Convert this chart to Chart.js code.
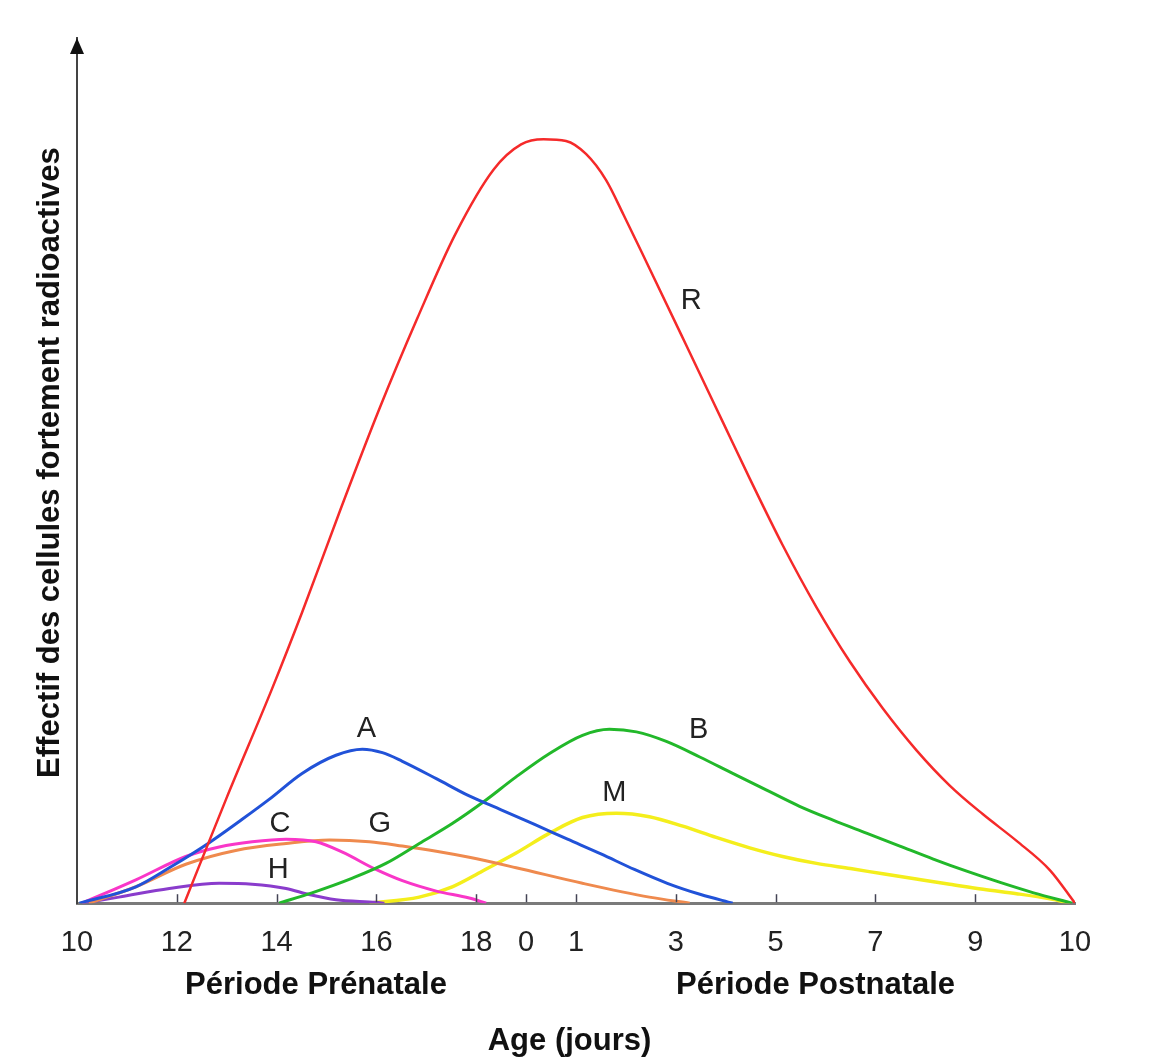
<!DOCTYPE html>
<html>
<head>
<meta charset="utf-8">
<title>Effectif des cellules fortement radioactives</title>
<script src="https://cdn.jsdelivr.net/npm/chart.js@4.4.1/dist/chart.umd.min.js"></script>
<style>
  html, body { margin: 0; padding: 0; background: #fff; }
</style>
</head>
<body>
<canvas id="chart" width="1158" height="1064"></canvas>
<script>
// x axis: 0..8 = jours 10..18 (prénatal), 9 = naissance (0), 10..20 = jours postnatals
const tickPositions = [0, 2, 4, 6, 8, 9, 10, 12, 14, 16, 18, 20];
const tickLabels = ['10', '12', '14', '16', '18', '0', '1', '3', '5', '7', '9', '10'];

// curves as [x, y] (y in % of axis height)
const curveR = [[2.15, 0], [3.0, 12.2], [3.91, 24.8], [4.51, 33.6], [5.28, 45.5], [6.05, 57.0],
  [6.82, 67.6], [7.58, 77.3], [8.35, 84.8], [8.9, 87.7], [9.35, 88.3], [9.8, 88.1],
  [10.2, 86.6], [10.6, 83.6], [10.95, 79.6], [11.42, 74.0], [12.2, 64.6], [12.96, 55.4],
  [13.48, 49.1], [14.14, 41.4], [14.82, 34.2], [15.49, 27.9], [16.15, 22.5], [16.82, 17.7],
  [17.49, 13.6], [18.15, 10.3], [18.83, 7.2], [19.5, 3.8], [20, 0]];
const curveA = [[0.05, 0], [1.18, 1.9], [1.85, 4.1], [2.65, 7.0], [3.31, 9.7], [3.85, 12.0],
  [4.51, 15.0], [5.19, 17.1], [5.72, 17.8], [6.12, 17.4], [6.52, 16.4], [7.2, 14.4],
  [7.86, 12.4], [8.5, 10.8], [9.17, 9.1], [9.83, 7.4], [10.5, 5.7], [11.17, 3.9],
  [11.83, 2.3], [12.5, 1.0], [13.14, 0]];
const curveB = [[4.05, 0], [4.71, 1.2], [5.52, 2.9], [6.19, 4.6], [6.86, 6.9], [7.52, 9.2],
  [8.12, 11.6], [8.8, 14.6], [9.47, 17.3], [10.13, 19.4], [10.67, 20.1], [11.21, 19.8],
  [11.81, 18.7], [12.48, 16.9], [13.14, 15.0], [13.81, 13.1], [14.48, 11.2], [15.15, 9.6],
  [15.82, 8.1], [16.49, 6.6], [17.16, 5.1], [17.83, 3.7], [18.5, 2.4], [19.17, 1.2], [19.94, 0]];
const curveC = [[0.1, 0], [1.18, 2.7], [2.18, 5.4], [2.85, 6.5], [3.51, 7.1], [4.19, 7.4],
  [4.79, 7.1], [5.32, 5.9], [5.99, 3.9], [6.52, 2.6], [7.2, 1.4], [7.86, 0.6], [8.2, 0]];
const curveG = [[0.24, 0], [1.18, 1.9], [2.18, 4.5], [3.18, 6.1], [4.19, 6.9], [5.06, 7.3],
  [5.86, 7.1], [6.52, 6.6], [7.2, 6.0], [7.86, 5.3], [8.8, 4.1], [10.13, 2.3], [11.47, 0.7],
  [12.28, 0]];
const curveH = [[0.1, 0], [0.84, 0.7], [1.85, 1.7], [2.85, 2.3], [3.51, 2.2], [4.19, 1.7],
  [4.65, 1.0], [5.19, 0.4], [5.99, 0.1], [6.16, 0]];
const curveM = [[5.86, 0], [6.86, 0.7], [7.52, 1.9], [8.12, 3.7], [8.8, 5.8], [9.47, 8.1],
  [10.13, 9.9], [10.81, 10.4], [11.47, 10.0], [12.14, 8.9], [12.81, 7.6], [13.48, 6.4],
  [14.14, 5.4], [14.82, 4.6], [15.5, 4.0], [16.15, 3.4], [16.82, 2.8], [17.49, 2.2],
  [18.16, 1.6], [18.83, 1.1], [19.5, 0.5], [19.9, 0]];

// curve letters and where they sit (data units)
const letterNames = ['R', 'A', 'B', 'C', 'G', 'H', 'M'];
const letterX = [12.31, 5.8, 12.46, 4.07, 6.07, 4.03, 10.77];
const letterY = [69.6, 20.1, 20.0, 9.2, 9.2, 3.8, 12.7];

const toPoints = arr => arr.map(p => ({ x: p[0], y: p[1] }));

function curve(label, pts, color, width) {
    return {
        label: label,
        data: toPoints(pts),
        borderColor: color,
        borderWidth: width,
        pointRadius: 0,
        fill: false,
        cubicInterpolationMode: 'monotone'
    };
}

const FONT = '"Liberation Sans", Arial, Helvetica, sans-serif';

const decorations = {
    id: 'decorations',
    afterDraw(chart) {
        const { ctx, chartArea, scales: { x, y } } = chart;
        ctx.save();

        // small ticks pointing up from the x axis
        ctx.strokeStyle = '#445';
        ctx.lineWidth = 1.5;
        tickPositions.slice(1, -1).forEach(v => {
            const px = Math.round(x.getPixelForValue(v)) + 0.5;
            ctx.beginPath();
            ctx.moveTo(px, chartArea.bottom - 1);
            ctx.lineTo(px, chartArea.bottom - 9);
            ctx.stroke();
        });

        // arrow head on the y axis
        const ax = chartArea.left;
        ctx.fillStyle = '#111';
        ctx.beginPath();
        ctx.moveTo(ax, chartArea.top);
        ctx.lineTo(ax - 7, chartArea.top + 16);
        ctx.lineTo(ax + 7, chartArea.top + 16);
        ctx.closePath();
        ctx.fill();

        // curve letters
        ctx.fillStyle = '#222';
        ctx.font = '29px ' + FONT;
        ctx.textAlign = 'center';
        ctx.textBaseline = 'middle';
        letterNames.forEach((t, i) => {
            ctx.fillText(t, x.getPixelForValue(letterX[i]), y.getPixelForValue(letterY[i]));
        });

        // period labels and axis titles
        ctx.fillStyle = '#111';
        ctx.font = 'bold 31px ' + FONT;
        ctx.textBaseline = 'alphabetic';
        ctx.fillText('Période Prénatale', x.getPixelForValue(4.79), chartArea.bottom + 91);
        ctx.fillText('Période Postnatale', x.getPixelForValue(14.8), chartArea.bottom + 91);
        ctx.fillText('Age (jours)', x.getPixelForValue(9.87), chartArea.bottom + 147);

        ctx.translate(chartArea.left - 27, (chartArea.top + chartArea.bottom) / 2 - 8);
        ctx.rotate(-Math.PI / 2);
        ctx.textBaseline = 'middle';
        ctx.font = 'bold 31px ' + FONT;
        ctx.fillText('Effectif des cellules fortement radioactives', 0, 0);
        ctx.restore();
    }
};

new Chart(document.getElementById('chart').getContext('2d'), {
    type: 'line',
    data: {
        datasets: [
            curve('R', curveR, '#f52a2a', 2.5),
            curve('A', curveA, '#2152d8', 3),
            curve('B', curveB, '#22b82a', 3),
            curve('C', curveC, '#f936c8', 3),
            curve('G', curveG, '#ef8a4e', 3),
            curve('H', curveH, '#8a3ccc', 3),
            curve('M', curveM, '#f4ee1c', 3.5)
        ]
    },
    options: {
        responsive: false,
        animation: false,
        layout: { padding: { left: 69, right: 83, top: 38, bottom: 90 } },
        plugins: { legend: { display: false }, tooltip: { enabled: false } },
        scales: {
            x: {
                type: 'linear',
                min: 0,
                max: 20,
                afterBuildTicks: axis => { axis.ticks = tickPositions.map(v => ({ value: v })); },
                ticks: {
                    autoSkip: false,
                    maxRotation: 0,
                    padding: 14,
                    color: '#222',
                    font: { family: FONT, size: 29 },
                    callback: v => tickLabels[tickPositions.indexOf(v)]
                },
                grid: { display: false },
                border: { display: true, color: '#7a7a7a', width: 3 }
            },
            y: {
                min: 0,
                max: 100,
                ticks: { display: false },
                grid: { display: false },
                border: { display: true, color: '#444', width: 2 }
            }
        }
    },
    plugins: [decorations]
});
</script>
</body>
</html>
